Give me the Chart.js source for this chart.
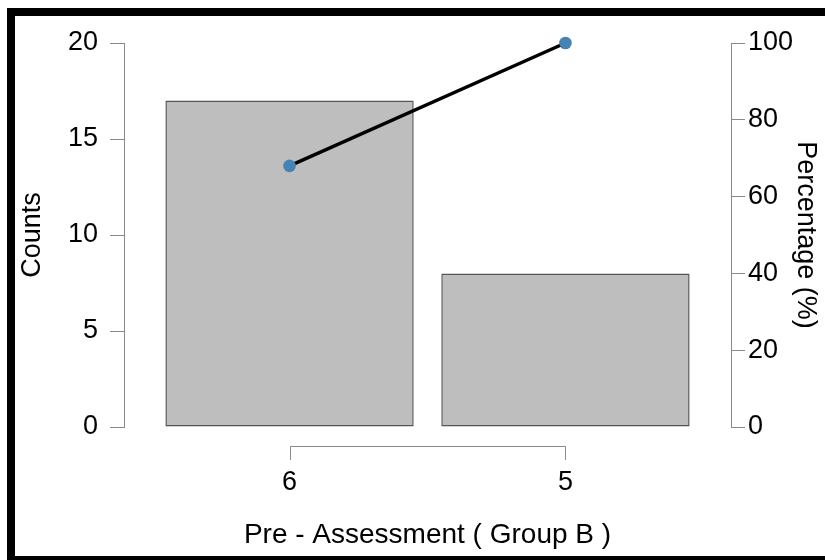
<!DOCTYPE html>
<html>
<head>
<meta charset="utf-8">
<script src="https://cdn.jsdelivr.net/npm/chart.js@4/dist/chart.umd.min.js"></script>
<style>
  html, body { margin: 0; padding: 0; background: #fff; }
  #wrap { position: relative; width: 825px; height: 560px; }
  canvas { display: block; }
</style>
</head>
<body>
<div id="wrap"><canvas id="chart" width="825" height="560"></canvas></div>
<script>
// Pareto chart: counts per score with cumulative percentage line
const categories = ['6', '5'];
const counts = [17, 8];
const cumulativePercent = [68, 100];
const countTicks = [0, 5, 10, 15, 20];
const percentTicks = [0, 20, 40, 60, 80, 100];

const FONT = { family: "'Liberation Sans', Arial, sans-serif", size: 27 };
const TITLE_FONT = { family: "'Liberation Sans', Arial, sans-serif", size: 28 };
const AXIS_GREY = '#8a8a8a';

const barPoints = categories.map((c, i) => ({ x: i, y: counts[i] }));
const linePoints = categories.map((c, i) => ({ x: i, y: cumulativePercent[i] }));

// Black frame drawn round the figure (top, left and bottom edges)
const framePlugin = {
  id: 'frame',
  afterDraw(chart) {
    const ctx = chart.ctx;
    ctx.save();
    ctx.fillStyle = '#000';
    ctx.fillRect(7, 8, 818, 8);
    ctx.fillRect(7, 8, 8, 552);
    ctx.fillRect(7, 556, 818, 4);
    ctx.restore();
  }
};

// Category axis drawn as a bracket spanning the first to last category
const bracketAxisPlugin = {
  id: 'bracketAxis',
  afterDatasetsDraw(chart) {
    const xs = chart.scales.x;
    const x0 = xs.getPixelForValue(0);
    const x1 = xs.getPixelForValue(categories.length - 1);
    const y = chart.chartArea.bottom + 19;
    const ctx = chart.ctx;
    ctx.save();
    ctx.strokeStyle = AXIS_GREY;
    ctx.lineWidth = 1;
    ctx.beginPath();
    ctx.moveTo(Math.round(x0) + 0.5, y + 14);
    ctx.lineTo(Math.round(x0) + 0.5, y + 0.5);
    ctx.lineTo(Math.round(x1) + 0.5, y + 0.5);
    ctx.lineTo(Math.round(x1) + 0.5, y + 14);
    ctx.stroke();
    ctx.restore();
  }
};

new Chart(document.getElementById('chart'), {
  data: {
    datasets: [
      {
        type: 'line',
        data: linePoints,
        yAxisID: 'yPct',
        borderColor: '#000',
        borderWidth: 3.4,
        pointRadius: 6.3,
        pointBackgroundColor: '#4682B4',
        pointBorderColor: '#4682B4',
        pointBorderWidth: 0,
        tension: 0,
        clip: false,
        order: 0
      },
      {
        type: 'bar',
        data: barPoints,
        yAxisID: 'yCount',
        backgroundColor: '#bebebe',
        borderColor: '#555555',
        borderWidth: 1.5,
        borderSkipped: false,
        categoryPercentage: 1,
        barPercentage: 0.9,
        order: 1
      }
    ]
  },
  options: {
    responsive: false,
    animation: false,
    devicePixelRatio: 1,
    layout: { padding: { top: 43, left: 0, right: 0, bottom: 0 } },
    plugins: { legend: { display: false }, tooltip: { enabled: false } },
    scales: {
      x: {
        type: 'linear',
        position: 'bottom',
        offset: false,
        min: -0.6,
        max: categories.length - 1 + 0.6,
        afterBuildTicks(scale) {
          scale.ticks = categories.map((c, i) => ({ value: i }));
        },
        afterFit(scale) { scale.height = 133; },
        grid: { display: false, drawTicks: false },
        border: { display: false },
        ticks: {
          color: '#000',
          font: FONT,
          padding: 39,
          maxRotation: 0,
          autoSkip: false,
          callback: (v) => categories[v]
        },
        title: {
          display: true,
          text: 'Pre - Assessment ( Group B )',
          color: '#000',
          font: TITLE_FONT,
          padding: { top: 0, bottom: 8 }
        }
      },
      yCount: {
        type: 'linear',
        position: 'left',
        min: 0,
        max: 20,
        afterBuildTicks(scale) {
          scale.ticks = countTicks.map(v => ({ value: v }));
        },
        afterFit(scale) { scale.width = 124; },
        grid: { drawOnChartArea: false, drawTicks: true, tickLength: 14, color: AXIS_GREY, lineWidth: 1 },
        border: { display: true, color: AXIS_GREY, width: 1 },
        ticks: { color: '#000', font: FONT, padding: 12 },
        title: {
          display: true,
          text: 'Counts',
          color: '#000',
          font: FONT,
          padding: { top: 16, bottom: 0 }
        }
      },
      yPct: {
        type: 'linear',
        position: 'right',
        min: 0,
        max: 100,
        afterBuildTicks(scale) {
          scale.ticks = percentTicks.map(v => ({ value: v }));
        },
        afterFit(scale) { scale.width = 94; },
        grid: { drawOnChartArea: false, drawTicks: true, tickLength: 14, color: AXIS_GREY, lineWidth: 1 },
        border: { display: true, color: AXIS_GREY, width: 1 },
        ticks: { color: '#000', font: FONT, padding: 3 },
        title: {
          display: true,
          text: 'Percentage (%)',
          color: '#000',
          font: FONT,
          padding: { top: 3, bottom: 0 }
        }
      }
    }
  },
  plugins: [bracketAxisPlugin, framePlugin]
});
</script>
</body>
</html>
